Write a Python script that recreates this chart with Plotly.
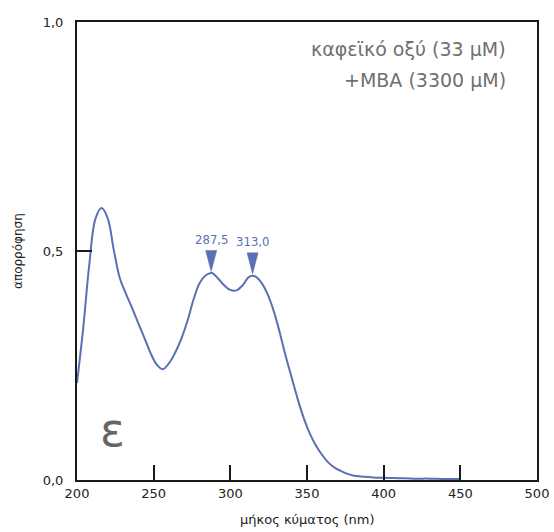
import plotly.graph_objects as go

# --- data ---
wavelength = [200, 204, 208, 212, 216, 220, 224, 228, 232, 236, 240, 244, 248, 252, 256,
              260, 264, 268, 272, 276, 280, 284, 288, 292, 296, 300, 304, 308, 312, 316,
              320, 324, 328, 332, 336, 340, 344, 348, 352, 356, 360, 364, 368, 372, 376,
              380, 384, 388, 392, 396, 400, 410, 420, 430, 440, 450]
absorbance = [0.212, 0.330, 0.470, 0.570, 0.594, 0.572, 0.502, 0.440, 0.406, 0.375, 0.342,
              0.310, 0.277, 0.252, 0.242, 0.255, 0.278, 0.308, 0.347, 0.394, 0.430, 0.447,
              0.452, 0.440, 0.425, 0.415, 0.414, 0.425, 0.443, 0.445, 0.432, 0.408, 0.372,
              0.325, 0.272, 0.224, 0.176, 0.134, 0.100, 0.074, 0.054, 0.038, 0.027, 0.020,
              0.014, 0.010, 0.008, 0.007, 0.006, 0.005, 0.005, 0.004, 0.003, 0.003, 0.002,
              0.002]

peak_x = [287.5, 314.5]
peak_y = [0.452, 0.447]
peak_labels = ["287,5", "313,0"]

x_ticks = [200, 250, 300, 350, 400, 450, 500]
x_ticklabels = ["200", "250", "300", "350", "400", "450", "500"]
y_ticks = [0.0, 0.5, 1.0]
y_ticklabels = ["0,0", "0,5", "1,0"]

title_lines = ["καφεϊκό οξύ (33 μM)", "+MBA (3300 μM)"]
panel_letter = "ε"
x_title = "μήκος κύματος (nm)"
y_title = "απορρόφηση"

LINE = "#5a6fb4"
GRAY = "#707070"
TEXT = "#222222"
FONT = "DejaVu Sans"

fig = go.Figure()

fig.add_trace(go.Scatter(
    x=wavelength, y=absorbance, mode="lines",
    line=dict(color=LINE, width=2, shape="spline", smoothing=1.0),
    hoverinfo="skip", showlegend=False))

# triangle markers above the peaks
half_w = 3.6
tri_x, tri_y = [], []
for px, py in zip(peak_x, peak_y):
    tri_x += [px - half_w, px + half_w, px, px - half_w, None]
    tri_y += [py + 0.049, py + 0.049, py + 0.003, py + 0.049, None]
fig.add_trace(go.Scatter(
    x=tri_x, y=tri_y, mode="lines", fill="toself", fillcolor=LINE,
    line=dict(color=LINE, width=0.5), hoverinfo="skip", showlegend=False))

for px, py, lab in zip(peak_x, peak_y, peak_labels):
    fig.add_annotation(x=px, y=py + 0.074, text=lab, showarrow=False,
                       font=dict(family="Liberation Sans Narrow, DejaVu Sans Condensed",
                                 size=13, color=LINE),
                       xanchor="center", yanchor="middle")

# title lines (top right)
fig.add_annotation(x=1, xref="paper", xshift=-29, y=1, yref="paper", yshift=-27,
                   text=title_lines[0], showarrow=False, xanchor="right",
                   yanchor="middle", font=dict(family=FONT, size=19, color=GRAY))
fig.add_annotation(x=1, xref="paper", xshift=-29, y=1, yref="paper", yshift=-58,
                   text=title_lines[1], showarrow=False, xanchor="right",
                   yanchor="middle", font=dict(family=FONT, size=19, color=GRAY))

fig.add_annotation(x=0, xref="paper", xshift=35, y=0, yref="paper", yshift=50,
                   text=panel_letter, showarrow=False, xanchor="center",
                   yanchor="middle", font=dict(family=FONT, size=46, color="#666666"))

# axis titles
fig.add_annotation(x=0, xref="paper", xshift=-59, y=0.5, yref="paper",
                   text=y_title, textangle=-90, showarrow=False,
                   xanchor="center", yanchor="middle",
                   font=dict(family=FONT, size=12, color=TEXT))
fig.add_annotation(x=0.5, xref="paper", y=0, yref="paper", yshift=-39,
                   text=x_title, showarrow=False,
                   xanchor="center", yanchor="middle",
                   font=dict(family=FONT, size=13, color=TEXT))

axis_common = dict(showgrid=False, zeroline=False, showline=True, linecolor="#1a1a1a",
                   linewidth=2, mirror=True, ticks="inside", ticklen=15, tickwidth=2,
                   tickcolor="#1a1a1a", automargin=False,
                   tickfont=dict(family=FONT, size=13, color=TEXT))

fig.update_xaxes(range=[200, 500], tickvals=x_ticks, ticktext=x_ticklabels, **axis_common)
fig.update_yaxes(range=[0, 1], tickvals=y_ticks, ticktext=y_ticklabels,
                 ticklabelstandoff=9, **axis_common)

fig.update_layout(width=554, height=532, margin=dict(l=77, r=17, t=22, b=52),
                  plot_bgcolor="white", paper_bgcolor="white")

fig.write_html("out.html")
